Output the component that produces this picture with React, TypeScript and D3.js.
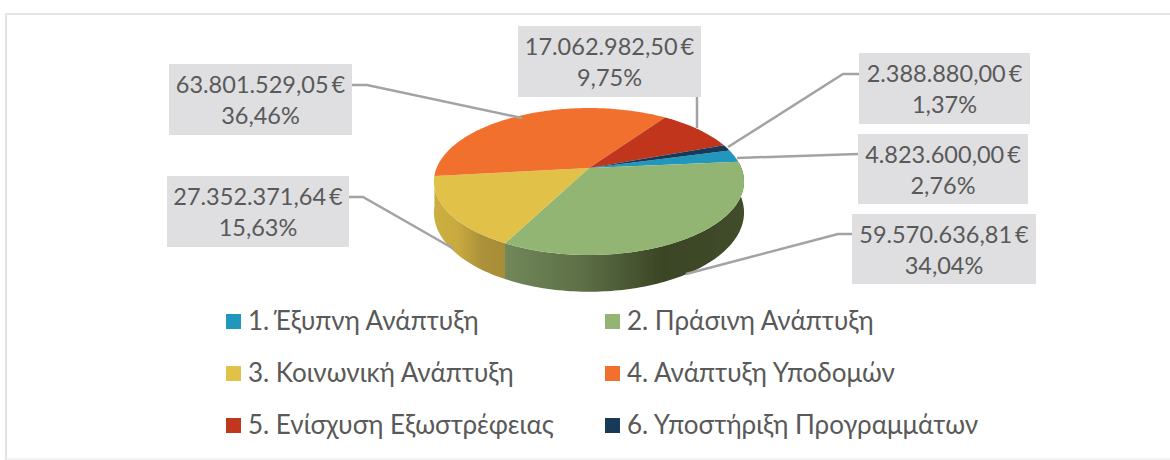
import React from "react";
import * as d3 from "d3";

const categories = ["1. Έξυπνη Ανάπτυξη", "2. Πράσινη Ανάπτυξη", "3. Κοινωνική Ανάπτυξη", "4. Ανάπτυξη Υποδομών", "5. Ενίσχυση Εξωστρέφειας", "6. Υποστήριξη Προγραμμάτων"];
const values = [4823600.0, 59570636.81, 27352371.64, 63801529.05, 17062982.5, 2388880.0];
const amountLabels = ["4.823.600,00 €", "59.570.636,81 €", "27.352.371,64 €", "63.801.529,05 €", "17.062.982,50 €", "2.388.880,00 €"];
const percentLabels = ["2,76%", "34,04%", "15,63%", "36,46%", "9,75%", "1,37%"];
const colors = ["#2297bd", "#93b573", "#e2c148", "#f2702d", "#c1361f", "#163a58"];
const wallStops: (string[] | null)[] = [null, ["#71875a", "#5c6e45", "#3a4524", "#414d2c"], ["#cdae42", "#c9aa3f", "#ac913a", "#a88d38"], null, null, null];

// label boxes: x, y, w, h
const boxes = [
  [858, 134, 170, 70],
  [852, 214, 184, 70],
  [167, 176, 182, 71],
  [169, 64, 183, 71],
  [518, 26, 183, 71],
  [859, 53, 171, 71],
];
const leaders = [
  [[858, 154], [737, 158]],
  [[852, 234], [838, 234], [686, 274]],
  [[349, 197], [363, 197], [454, 249]],
  [[352, 85], [367, 85], [522, 118]],
  [[697, 97], [697, 128]],
  [[859, 74], [843, 74], [728, 147]],
];
const legendX = [226, 605];
const legendY = [322, 374, 426];

const apexX = 589;
const apexY = 168;
const R = 152.4;
const Ry = 71;
const K = 0.1837;
const DEPTH = 30;
const START = (75 * Math.PI) / 180;

const project = (a: number, drop: boolean): [number, number] => {
  const x = Math.sin(a);
  const y = -Math.cos(a);
  const s = 1 / (1 - K * y);
  return [apexX + R * x * s, apexY + Ry * y * s + (drop ? DEPTH * s : 0)];
};

const rim = (a0: number, a1: number, drop: boolean) => {
  const n = Math.max(2, Math.ceil(Math.abs(a1 - a0) / 0.02));
  return d3.range(n + 1).map((i) => project(a0 + ((a1 - a0) * i) / n, drop));
};

const line = d3.line();
const pie = d3.pie<number>().sort(null).startAngle(START).endAngle(START + 2 * Math.PI);

const FONT = "Lato, 'Open Sans', 'Noto Sans', sans-serif";

export default function App() {
  const arcs = pie(values);
  return (
    <svg width={1170} height={460} style={{ position: "absolute", left: 0, top: 0, background: "#fff" }}>
      <defs>
        {arcs.map((d, i) => {
          const stops = wallStops[i];
          if (!stops) return null;
          const xs = rim(d.startAngle, d.endAngle, false).map((p) => p[0]);
          return (
            <linearGradient key={i} id={`wall${i}`} gradientUnits="userSpaceOnUse" x1={d3.min(xs)} x2={d3.max(xs)} y1={0} y2={0}>
              {stops.map((c, j) => (
                <stop key={j} offset={j / (stops.length - 1)} stopColor={c} />
              ))}
            </linearGradient>
          );
        })}
        <filter id="soft" x="-5%" y="-5%" width="110%" height="110%">
          <feGaussianBlur stdDeviation={0.6} />
        </filter>
      </defs>
      <path d="M6 459H1170" fill="none" stroke="#f3f3f3" strokeWidth={2} />
      <path d="M6 460V14H1170" fill="none" stroke="#e4e4e4" strokeWidth={2} />
      <g filter="url(#soft)">
        {arcs.map((d, i) =>
          wallStops[i] ? (
            <path
              key={i}
              d={line([...rim(d.startAngle, d.endAngle, false), ...rim(d.endAngle, d.startAngle, true)])! + "Z"}
              fill={`url(#wall${i})`}
            />
          ) : null
        )}
        {arcs.map((d, i) => (
          <path key={i} d={line([[apexX, apexY], ...rim(d.startAngle, d.endAngle, false)])! + "Z"} fill={colors[i]} />
        ))}
      </g>
      {leaders.map((pts, i) => (
        <path key={i} d={line(pts as [number, number][])!} fill="none" stroke="#a3a3a5" strokeWidth={2.5} />
      ))}
      {boxes.map((b, i) => (
        <g key={i}>
          <rect x={b[0]} y={b[1]} width={b[2]} height={b[3]} fill="#dfdfe1" />
          <text x={b[0] + b[2] / 2} y={b[1] + 29} textAnchor="middle" fontFamily={FONT} fontSize={23.5} wordSpacing={-3} fill="#595959">
            {amountLabels[i]}
          </text>
          <text x={b[0] + b[2] / 2} y={b[1] + 60} textAnchor="middle" fontFamily={FONT} fontSize={23.5} fill="#595959">
            {percentLabels[i]}
          </text>
        </g>
      ))}
      {categories.map((c, i) => {
        const lx = legendX[i % 2];
        const ly = legendY[Math.floor(i / 2)];
        return (
          <g key={i}>
            <rect x={lx} y={ly - 8} width={15} height={15} fill={colors[i]} />
            <text x={lx + 22} y={ly + 8} fontFamily={FONT} fontSize={26} fill="#595959">
              {c}
            </text>
          </g>
        );
      })}
    </svg>
  );
}
